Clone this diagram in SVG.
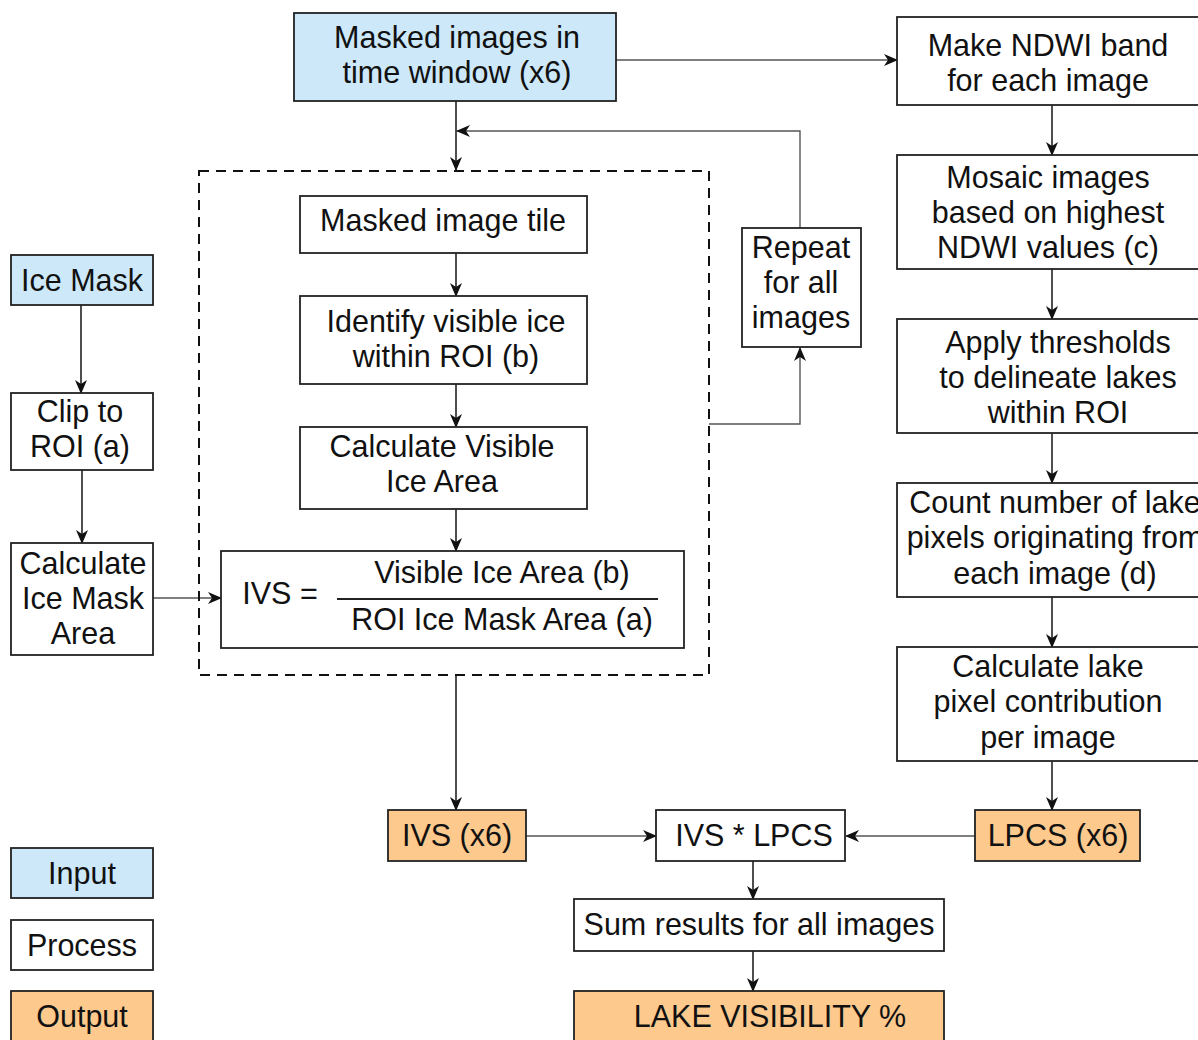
<svg xmlns="http://www.w3.org/2000/svg" width="1198" height="1040" viewBox="0 0 1198 1040">
<defs>
<style>
.box{stroke:#222;stroke-width:1.8;fill:#fff}
.in{fill:#cce8f9}
.out{fill:#fdc98d}
text{font-family:"Liberation Sans",Arial,sans-serif;font-size:30.5px;fill:#111;text-anchor:middle}
.c{stroke:#222;stroke-width:1.6;fill:none}
.t{stroke:#555;stroke-width:1.4;fill:none}
</style>
<marker id="a" viewBox="0 0 14 12" refX="13" refY="6" markerWidth="14" markerHeight="12" markerUnits="userSpaceOnUse" orient="auto">
<path d="M0,0 L14,6 L0,12 L4,6 Z" fill="#111"/>
</marker>
</defs>
<rect width="1198" height="1040" fill="#fff"/>

<g id="connectors">
<path class="c" d="M456,101 V170" marker-end="url(#a)"/>
<path class="t" d="M616,60 H897" marker-end="url(#a)"/>
<path class="t" d="M800,228 V131 H457" marker-end="url(#a)"/>
<path class="t" d="M709,424 H800 V348" marker-end="url(#a)"/>
<path class="c" d="M456,253 V296" marker-end="url(#a)"/>
<path class="c" d="M456,384 V427" marker-end="url(#a)"/>
<path class="c" d="M456,509 V551" marker-end="url(#a)"/>
<path class="c" d="M456,675 V810" marker-end="url(#a)"/>
<path class="c" d="M81,305 V393" marker-end="url(#a)"/>
<path class="c" d="M82,470 V543" marker-end="url(#a)"/>
<path class="t" d="M153,598 H221" marker-end="url(#a)"/>
<path class="c" d="M1052,105 V155" marker-end="url(#a)"/>
<path class="c" d="M1052,269 V319" marker-end="url(#a)"/>
<path class="c" d="M1052,433 V483" marker-end="url(#a)"/>
<path class="c" d="M1052,597 V647" marker-end="url(#a)"/>
<path class="c" d="M1052,761 V810" marker-end="url(#a)"/>
<path class="t" d="M526,836 H656" marker-end="url(#a)"/>
<path class="t" d="M975,836 H846" marker-end="url(#a)"/>
<path class="c" d="M753,861 V899" marker-end="url(#a)"/>
<path class="c" d="M753,951 V991" marker-end="url(#a)"/>
</g>

<g id="loop-frame">
<rect x="199" y="171" width="510" height="504" fill="none" stroke="#111" stroke-width="2" stroke-dasharray="10,7"/>
</g>

<g id="masked-images">
<rect class="box in" x="294" y="13" width="322" height="88"/>
<text x="457" y="48">Masked images in</text>
<text x="457" y="83">time window (x6)</text>
</g>

<g id="make-ndwi">
<rect class="box" x="897" y="17" width="320" height="88"/>
<text x="1048" y="56">Make NDWI band</text>
<text x="1048" y="91">for each image</text>
</g>

<g id="mosaic">
<rect class="box" x="897" y="155" width="320" height="114"/>
<text x="1048" y="188">Mosaic images</text>
<text x="1048" y="223">based on highest</text>
<text x="1048" y="258">NDWI values (c)</text>
</g>

<g id="thresholds">
<rect class="box" x="897" y="319" width="320" height="114"/>
<text x="1058" y="353">Apply thresholds</text>
<text x="1058" y="388">to delineate lakes</text>
<text x="1058" y="423">within ROI</text>
</g>

<g id="count">
<rect class="box" x="897" y="483" width="320" height="114"/>
<text x="1055" y="513">Count number of lake</text>
<text x="1055" y="548">pixels originating from</text>
<text x="1055" y="584">each image (d)</text>
</g>

<g id="contribution">
<rect class="box" x="897" y="647" width="320" height="114"/>
<text x="1048" y="677">Calculate lake</text>
<text x="1048" y="712">pixel contribution</text>
<text x="1048" y="748">per image</text>
</g>

<g id="lpcs">
<rect class="box out" x="975" y="810" width="165" height="51"/>
<text x="1058" y="846">LPCS (x6)</text>
</g>

<g id="ice-mask">
<rect class="box in" x="11" y="255" width="142" height="50"/>
<text x="82" y="291">Ice Mask</text>
</g>

<g id="clip-roi">
<rect class="box" x="11" y="393" width="142" height="77"/>
<text x="80" y="422">Clip to</text>
<text x="80" y="457">ROI (a)</text>
</g>

<g id="ice-mask-area">
<rect class="box" x="11" y="543" width="142" height="112"/>
<text x="83" y="574">Calculate</text>
<text x="83" y="609">Ice Mask</text>
<text x="83" y="644">Area</text>
</g>

<g id="image-tile">
<rect class="box" x="300" y="196" width="287" height="57"/>
<text x="443" y="231">Masked image tile</text>
</g>

<g id="identify-ice">
<rect class="box" x="300" y="296" width="287" height="88"/>
<text x="446" y="332">Identify visible ice</text>
<text x="446" y="367">within ROI (b)</text>
</g>

<g id="visible-area">
<rect class="box" x="300" y="427" width="287" height="82"/>
<text x="442" y="457">Calculate Visible</text>
<text x="442" y="492">Ice Area</text>
</g>

<g id="ivs-formula">
<rect class="box" x="221" y="551" width="463" height="97"/>
<text x="280" y="604">IVS =</text>
<line x1="337" y1="599" x2="658" y2="599" stroke="#222" stroke-width="1.8"/>
<text x="502" y="583">Visible Ice Area (b)</text>
<text x="502" y="630">ROI Ice Mask Area (a)</text>
</g>

<g id="repeat">
<rect class="box" x="742" y="228" width="119" height="119"/>
<text x="801" y="258">Repeat</text>
<text x="801" y="293">for all</text>
<text x="801" y="328">images</text>
</g>

<g id="ivs-x6">
<rect class="box out" x="388" y="810" width="138" height="51"/>
<text x="457" y="846">IVS (x6)</text>
</g>

<g id="ivs-lpcs">
<rect class="box" x="656" y="810" width="189" height="51"/>
<text x="754" y="846">IVS * LPCS</text>
</g>

<g id="sum">
<rect class="box" x="574" y="899" width="370" height="52"/>
<text x="759" y="935">Sum results for all images</text>
</g>

<g id="lake-visibility">
<rect class="box out" x="574" y="991" width="370" height="60"/>
<text x="770" y="1027">LAKE VISIBILITY %</text>
</g>

<g id="legend-input">
<rect class="box in" x="11" y="848" width="142" height="50"/>
<text x="82" y="884">Input</text>
</g>
<g id="legend-process">
<rect class="box" x="11" y="920" width="142" height="50"/>
<text x="82" y="956">Process</text>
</g>
<g id="legend-output">
<rect class="box out" x="11" y="991" width="142" height="60"/>
<text x="82" y="1027">Output</text>
</g>
</svg>
